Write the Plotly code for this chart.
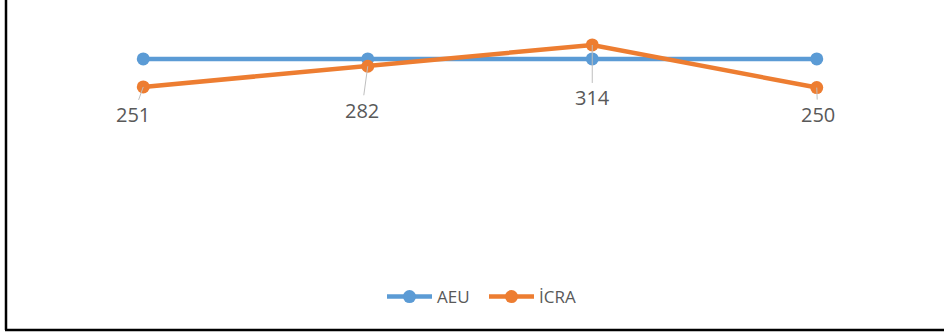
import plotly.graph_objects as go

# Data
periods = ["1", "2", "3", "4"]
aeu_values = [293, 293, 293, 293]
icra_values = [251, 282, 314, 250]

# Label offsets (pixels) for the İCRA data labels
label_dx = [-10, -6, 0, 1]
label_dy = [28, 44, 53, 27]

W, H = 944, 333
ML, MR, MT, MB = 31, 15, 21, 79
PW, PH = W - ML - MR, H - MT - MB

BLUE = "#5B9BD5"
ORANGE = "#ED7D31"
TEXT = "#595959"
FONT = "Open Sans"


def px_to_paper_x(px):
    return (px - ML) / PW


def px_to_paper_y(py):
    return (H - MB - py) / PH


fig = go.Figure()

fig.add_trace(go.Scatter(
    x=periods, y=aeu_values, name="AEU", mode="lines+markers",
    line=dict(color=BLUE, width=4.5),
    marker=dict(color=BLUE, size=13),
))
fig.add_trace(go.Scatter(
    x=periods, y=icra_values, name="İCRA", mode="lines+markers",
    line=dict(color=ORANGE, width=4.5),
    marker=dict(color=ORANGE, size=13),
))

# Data labels with leader lines (x given as category index)
for i, (v, dx, dy) in enumerate(zip(icra_values, label_dx, label_dy)):
    fig.add_annotation(
        x=i, y=v, text=str(v), showarrow=True, arrowhead=0,
        arrowwidth=1, arrowcolor="#BFBFBF", ax=dx, ay=dy, standoff=0,
        font=dict(family=FONT, size=20, color=TEXT),
    )

# Frame: left and bottom edges
fig.add_shape(type="line", xref="paper", yref="paper",
              x0=px_to_paper_x(6), x1=px_to_paper_x(6),
              y0=px_to_paper_y(330), y1=px_to_paper_y(-2),
              line=dict(color="black", width=2.5))
fig.add_shape(type="line", xref="paper", yref="paper",
              x0=px_to_paper_x(5), x1=px_to_paper_x(946),
              y0=px_to_paper_y(330), y1=px_to_paper_y(330),
              line=dict(color="black", width=2.5))

fig.update_layout(
    width=W, height=H,
    margin=dict(l=ML, r=MR, t=MT, b=MB),
    paper_bgcolor="white", plot_bgcolor="white",
    showlegend=True,
    legend=dict(
        orientation="h", xanchor="center", yanchor="middle",
        x=px_to_paper_x(484), y=px_to_paper_y(297),
        font=dict(family=FONT, size=17, color=TEXT),
        bgcolor="rgba(0,0,0,0)", itemwidth=45,
        entrywidth=42, entrywidthmode="pixels",
    ),
    xaxis=dict(type="category", range=[-0.5, 3.5], visible=False,
               showgrid=False, zeroline=False),
    yaxis=dict(range=[0, 350], visible=False, showgrid=False,
               zeroline=False),
)

fig.write_html("out.html")
